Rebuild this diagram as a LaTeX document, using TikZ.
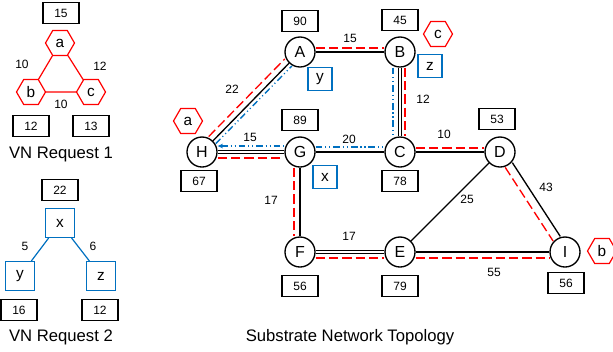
\documentclass[tikz,border=0pt]{standalone}
\usepackage{fontspec}
\setsansfont{Liberation Sans}
\usetikzlibrary{shapes.geometric, arrows.meta}
\definecolor{vnred}{RGB}{255,0,0}
\definecolor{vnblue}{RGB}{0,112,192}
\begin{document}
\begin{tikzpicture}[x=0.75pt, y=-0.75pt, font=\sffamily, line join=miter,
    snode/.style={draw, circle, line width=1pt, minimum size=22.5pt, inner sep=0pt, font=\sffamily\fontsize{12}{13}\selectfont},
    capbox/.style={draw, line width=1pt, minimum width=27pt, minimum height=15.5pt, inner sep=0pt, font=\sffamily\fontsize{9}{10}\selectfont},
    hexa/.style={draw=vnred, regular polygon, regular polygon sides=6, minimum size=21.75pt, inner sep=0pt, line width=0.9pt, font=\sffamily\fontsize{11.5}{13}\selectfont},
    vbox/.style={draw=vnblue, line width=0.9pt, minimum size=21.75pt, inner sep=0pt, font=\sffamily\fontsize{11.5}{13}\selectfont},
    vmap/.style={draw=vnblue, line width=0.9pt, minimum width=18pt, minimum height=17.25pt, inner sep=0pt, font=\sffamily\fontsize{11.5}{13}\selectfont},
    lbl/.style={inner sep=0pt, font=\sffamily\fontsize{9}{10}\selectfont},
    title/.style={inner sep=0pt, font=\sffamily\fontsize{12.5}{14}\selectfont},
    link/.style={line width=1pt},
    dlink/.style={double, double distance=1.3pt, line width=0.65pt},
    reddash/.style={draw=vnred, line width=1pt, dash pattern=on 7pt off 3pt},
    bluedash/.style={draw=vnblue, line width=1pt, dash pattern=on 5pt off 2.2pt on 0.8pt off 2.2pt on 0.8pt off 2.2pt}]
    \useasboundingbox (0,0) rectangle (613,351);

    \node[hexa] (a) at (60,43) {a};
    \node[hexa] (b) at (31,92) {b};
    \node[hexa] (c) at (91,92) {c};
    \draw[vnred, line width=0.9pt] (a) -- (b);
    \draw[vnred, line width=0.9pt] (a) -- (c);
    \draw[vnred, line width=0.9pt] (b) -- (c);
    \node[lbl] (lab) at (22,64) {10};
    \node[lbl] (lac) at (100,66) {12};
    \node[lbl] (lbc) at (61,104) {10};
    \node[capbox] (capa) at (61,13) {15};
    \node[capbox] (capb) at (31,126) {12};
    \node[capbox] (capc) at (91,126) {13};
    \node[title] (vn1) at (61,154) {VN Request 1};

    \node[vbox] (x) at (60,223) {x};
    \node[vbox] (y) at (20,276) {y};
    \node[vbox] (z) at (101,276) {z};
    \draw[vnblue, line width=0.9pt] (x) -- (y);
    \draw[vnblue, line width=0.9pt] (x) -- (z);
    \node[lbl] (lxy) at (25,246) {5};
    \node[lbl] (lxz) at (93,246) {6};
    \node[capbox] (capx) at (60,190) {22};
    \node[capbox] (capy) at (19,310) {16};
    \node[capbox] (capz) at (100,310) {12};
    \node[title] (vn2) at (61,337) {VN Request 2};

    \node[snode] (A) at (300,52) {A};
    \node[snode] (B) at (400,52) {B};
    \node[snode] (H) at (202,152) {H};
    \node[snode] (G) at (300,152) {G};
    \node[snode] (C) at (400,152) {C};
    \node[snode] (D) at (500,152) {D};
    \node[snode] (F) at (300,252) {F};
    \node[snode] (E) at (400,252) {E};
    \node[snode] (I) at (565,252) {I};

    \draw[link] (A) -- (B);
    \draw[link] (H) -- (A);
    \draw[dlink] (B) -- (C);
    \draw[dlink] (H) -- (G);
    \draw[link] (G) -- (C);
    \draw[link] (C) -- (D);
    \draw[link] (G) -- (F);
    \draw[dlink] (F) -- (E);
    \draw[link] (D) -- (E);
    \draw[link] (E) -- (I);
    \draw[link, transform canvas={xshift=2.85pt, yshift=1.85pt}] (D) -- (I);

    \draw[reddash, transform canvas={yshift=3pt}] (A) -- (B);
    \draw[reddash, transform canvas={xshift=-3.2pt, yshift=3.2pt}] (H) -- (A);
    \draw[reddash, transform canvas={yshift=-4.5pt}] (H) -- (G);
    \draw[reddash, transform canvas={xshift=3.75pt}] (B) -- (C);
    \draw[reddash, transform canvas={yshift=3pt}] (C) -- (D);
    \draw[reddash, transform canvas={xshift=-2.5pt, yshift=-1.65pt}] (D) -- (I);
    \draw[reddash, transform canvas={xshift=-4.5pt}] (G) -- (F);
    \draw[reddash, transform canvas={yshift=-4.5pt}] (F) -- (E);
    \draw[reddash, transform canvas={yshift=-4.5pt}] (E) -- (I);

    \draw[bluedash, transform canvas={xshift=2.1pt, yshift=-2.1pt}] (H) -- (A);
    \draw[bluedash, {Stealth[length=4pt, width=3.5pt]}-, transform canvas={yshift=4.5pt}] (H) -- (G);
    \draw[bluedash, transform canvas={yshift=3.75pt}] (G) -- (C);
    \draw[bluedash, transform canvas={xshift=-5.25pt}] (B) -- (C);

    \node[lbl] (lAB) at (350,38) {15};
    \node[lbl] (lHA) at (232,89) {22};
    \node[lbl] (lHG) at (250,137) {15};
    \node[lbl] (lGC) at (349,139) {20};
    \node[lbl] (lBC) at (423,99) {12};
    \node[lbl] (lCD) at (444,134) {10};
    \node[lbl] (lDI) at (546,187) {43};
    \node[lbl] (lDE) at (467,199) {25};
    \node[lbl] (lEI) at (494,272) {55};
    \node[lbl] (lGF) at (271,200) {17};
    \node[lbl] (lFE) at (349,236) {17};

    \node[capbox] (capA) at (300,21) {90};
    \node[capbox] (capB) at (400,20) {45};
    \node[capbox] (capG) at (300,120) {89};
    \node[capbox] (capH) at (199,181) {67};
    \node[capbox] (capC) at (400,181) {78};
    \node[capbox] (capD) at (497,119) {53};
    \node[capbox] (capF) at (300,286) {56};
    \node[capbox] (capE) at (400,286) {79};
    \node[capbox] (capI) at (566,283) {56};

    \node[vmap] (my) at (320,79) {y};
    \node[vmap] (mz) at (430,66) {z};
    \node[vmap] (mx) at (325,177) {x};
    \node[hexa] (ma) at (188,121) {a};
    \node[hexa] (mc) at (438,34) {c};
    \node[hexa] (mb) at (602,251) {b};

    \node[title] (sub) at (350,337) {Substrate Network Topology};
\end{tikzpicture}
\end{document}
